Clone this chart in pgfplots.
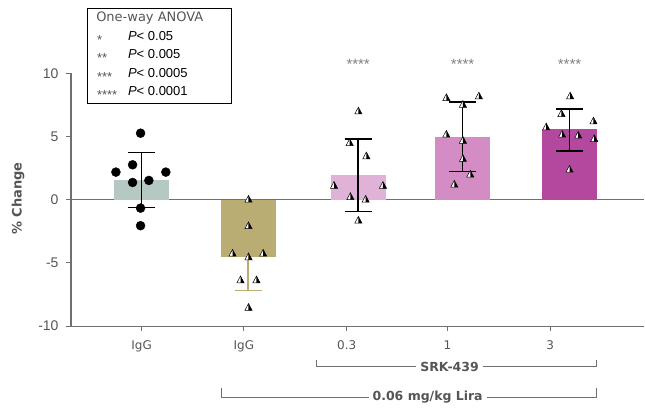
\documentclass[border=0pt]{standalone}
\usepackage{pgfplots}
\pgfplotsset{compat=1.18}
\usepackage{fontspec}
\setmainfont{DejaVu Sans}
\newfontfamily\arial{Liberation Sans}
\definecolor{cA}{HTML}{B6C8C4}
\definecolor{cB}{HTML}{B9AD73}
\definecolor{cC}{HTML}{E0B2D7}
\definecolor{cD}{HTML}{D48CC4}
\definecolor{cE}{HTML}{B4489E}
\definecolor{txt}{HTML}{555555}
\definecolor{axc}{HTML}{707070}
\pgfdeclareplotmark{htri}{%
  \pgfpathmoveto{\pgfqpoint{0pt}{1.1\pgfplotmarksize}}%
  \pgfpathlineto{\pgfqpoint{-0.9\pgfplotmarksize}{-0.6\pgfplotmarksize}}%
  \pgfpathlineto{\pgfqpoint{0.9\pgfplotmarksize}{-0.6\pgfplotmarksize}}%
  \pgfpathclose
  \pgfsetfillcolor{white}\pgfusepath{fill,stroke}%
  \pgfpathmoveto{\pgfqpoint{0pt}{1.1\pgfplotmarksize}}%
  \pgfpathlineto{\pgfqpoint{0pt}{-0.6\pgfplotmarksize}}%
  \pgfpathlineto{\pgfqpoint{0.9\pgfplotmarksize}{-0.6\pgfplotmarksize}}%
  \pgfpathclose
  \pgfsetfillcolor{black}\pgfusepath{fill}%
}
\begin{document}
\begin{tikzpicture}
\begin{axis}[
  width=574pt, height=253pt, scale only axis,
  xmin=-0.690, xmax=4.915, ymin=-10, ymax=10,
  axis x line*=bottom, axis y line*=left,
  axis line style={axc, line width=1.2pt},
  clip=false,
  xtick={0,1,2.005,2.99,3.995},
  xticklabels={IgG,IgG,0.3,1,3},
  ytick={-10,-5,0,5,10},
  tick align=outside, major tick length=5pt,
  tick style={axc, line width=1pt},
  xticklabel style={font=\fontsize{12}{14}\selectfont, text=txt, yshift=-6pt},
  yticklabel style={font=\arial\fontsize{14}{16}\selectfont, text=txt, xshift=-4pt},
  /pgf/number format/assume math mode=true,
]
% bounding box
\path (axis cs:-1.384,-16.6) rectangle (axis cs:4.915,15.81);
% zero line
\draw[axc, line width=1.2pt] (axis cs:-0.690,0) -- (axis cs:4.915,0);
% bars
\addplot[ybar, bar shift=0pt, bar width=55pt, fill=cA, draw=none] coordinates {(0,1.58)};
\addplot[ybar, bar shift=0pt, bar width=55pt, fill=cB, draw=none] coordinates {(1.041,-4.55)};
\addplot[ybar, bar shift=0pt, bar width=55pt, fill=cC, draw=none] coordinates {(2.117,1.98)};
\addplot[ybar, bar shift=0pt, bar width=55pt, fill=cD, draw=none] coordinates {(3.138,5.0)};
\addplot[ybar, bar shift=0pt, bar width=55pt, fill=cE, draw=none] coordinates {(4.183,5.59)};
% error bars
\addplot[draw=none,
  error bars/.cd, y dir=both, y explicit, error mark=|,
  error bar style={draw=black, line width=1.4pt},
  error mark options={draw=black, mark size=13.5pt, line width=1.4pt}]
  coordinates {(0,1.58) += (0,2.16) -= (0,2.21)
               (2.117,1.98) += (0,2.82) -= (0,2.90)
               (3.138,5.0) += (0,2.75) -= (0,2.76)
               (4.183,5.59) += (0,1.58) -= (0,1.72)};
\addplot[draw=none,
  error bars/.cd, y dir=minus, y explicit, error mark=|,
  error bar style={draw=cB, line width=1.4pt},
  error mark options={draw=cB, mark size=13.5pt, line width=1.4pt}]
  coordinates {(1.041,-4.55) -= (0,2.62)};
% points
\addplot[only marks, mark=*, mark size=4.5pt, black] coordinates {
  (-0.01,5.27) (-0.088,2.77) (-0.251,2.19) (0.237,2.19)
  (-0.088,1.37) (0.071,1.53) (-0.01,-0.66) (-0.01,-2.05)};
\addplot[only marks, mark=htri, mark size=4pt, black, line width=0.5pt] coordinates {
  (1.045,0) (1.045,-2.1) (0.889,-4.27) (1.045,-4.56)
  (1.188,-4.27) (0.967,-6.38) (1.123,-6.38) (1.045,-8.56)};
\addplot[only marks, mark=htri, mark size=4pt, black, line width=0.5pt] coordinates {
  (2.119,6.98) (2.034,4.48) (2.197,3.43) (1.881,1.1)
  (2.359,1.1) (2.041,0.21) (2.190,0) (2.119,-1.66)};
\addplot[only marks, mark=htri, mark size=4pt, black, line width=0.5pt] coordinates {
  (2.979,8.04) (3.297,8.17) (3.141,7.51) (2.979,5.14)
  (3.141,4.66) (3.141,3.22) (3.213,1.98) (3.057,1.19)};
\addplot[only marks, mark=htri, mark size=4pt, black, line width=0.5pt] coordinates {
  (4.189,8.17) (4.104,6.78) (4.417,6.19) (3.955,5.72)
  (4.111,5.14) (4.268,5.06) (4.424,4.8) (4.183,2.37)};
% significance stars
\node[text=gray, font=\arial\fontsize{15}{16}\selectfont, inner sep=0pt] at (axis cs:2.117,10.75) {****};
\node[text=gray, font=\arial\fontsize{15}{16}\selectfont, inner sep=0pt] at (axis cs:3.138,10.75) {****};
\node[text=gray, font=\arial\fontsize{15}{16}\selectfont, inner sep=0pt] at (axis cs:4.183,10.75) {****};
% legend box
\draw[black, line width=0.9pt] (axis cs:-0.534,15.18) rectangle (axis cs:0.882,7.59);
\node[anchor=west, inner sep=0pt, text=txt, font=\fontsize{13}{15}\selectfont] at (axis cs:-0.445,14.39) {One-way ANOVA};
\node[anchor=west, inner sep=0pt, text=txt, font=\arial\fontsize{13}{15}\selectfont] at (axis cs:-0.437,12.65) {*};
\node[anchor=west, inner sep=0pt, text=txt, font=\arial\fontsize{13}{15}\selectfont] at (axis cs:-0.437,11.19) {**};
\node[anchor=west, inner sep=0pt, text=txt, font=\arial\fontsize{13}{15}\selectfont] at (axis cs:-0.437,9.73) {***};
\node[anchor=west, inner sep=0pt, text=txt, font=\arial\fontsize{13}{15}\selectfont] at (axis cs:-0.437,8.26) {****};
\node[anchor=west, inner sep=0pt, font=\arial\fontsize{13}{15}\selectfont] at (axis cs:-0.134,12.96) {\textit{P}< 0.05};
\node[anchor=west, inner sep=0pt, font=\arial\fontsize{13}{15}\selectfont] at (axis cs:-0.134,11.50) {\textit{P}< 0.005};
\node[anchor=west, inner sep=0pt, font=\arial\fontsize{13}{15}\selectfont] at (axis cs:-0.134,10.04) {\textit{P}< 0.0005};
\node[anchor=west, inner sep=0pt, font=\arial\fontsize{13}{15}\selectfont] at (axis cs:-0.134,8.57) {\textit{P}< 0.0001};
% y label
\node[rotate=90, text=txt, font=\bfseries\fontsize{13}{15}\selectfont] at (axis cs:-1.208,0.1) {\% Change};
% brackets
\draw[axc, line width=1pt] (axis cs:1.712,-12.65) -- (axis cs:1.712,-13.2) -- (axis cs:4.446,-13.2) -- (axis cs:4.446,-12.65);
\node[fill=white, inner xsep=4pt, inner ysep=1pt, text=txt, font=\bfseries\fontsize{12.5}{14}\selectfont] at (axis cs:3.01,-13.2) {SRK-439};
\draw[axc, line width=1pt] (axis cs:0.786,-14.86) -- (axis cs:0.786,-15.65) -- (axis cs:4.446,-15.65) -- (axis cs:4.446,-14.86);
\node[fill=white, inner xsep=4pt, inner ysep=1pt, text=txt, font=\bfseries\fontsize{12.5}{14}\selectfont] at (axis cs:2.796,-15.65) {0.06 mg/kg Lira};
\end{axis}
\end{tikzpicture}
\end{document}
